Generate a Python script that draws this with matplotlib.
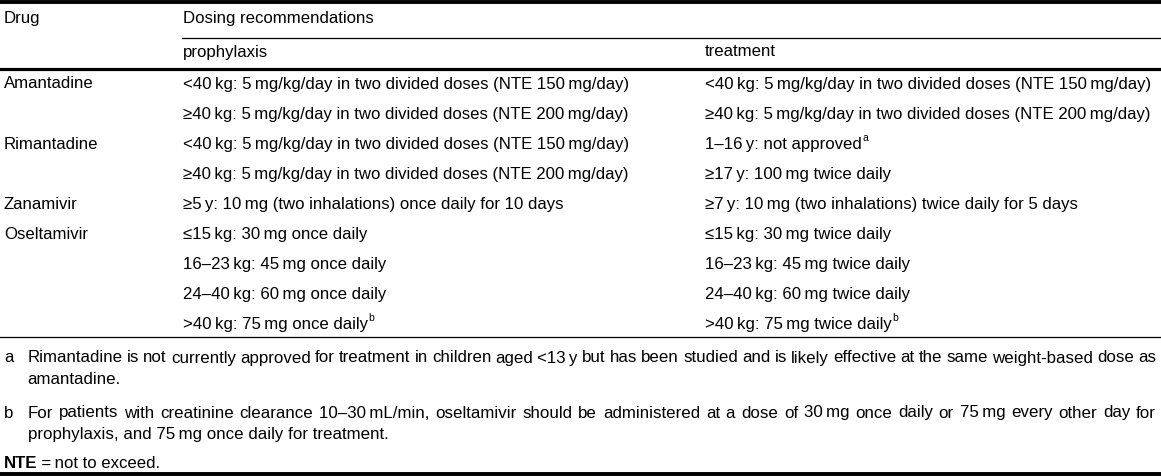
import matplotlib.pyplot as plt

plt.rcParams['font.family'] = ['Liberation Sans', 'DejaVu Sans']

T = '\u2009'
drugs = ['Amantadine', '', 'Rimantadine', '', 'Zanamivir', 'Oseltamivir', '', '', '']
prophylaxis = [
    f'<40{T}kg: 5{T}mg/kg/day in two divided doses (NTE 150{T}mg/day)',
    f'≥40{T}kg: 5{T}mg/kg/day in two divided doses (NTE 200{T}mg/day)',
    f'<40{T}kg: 5{T}mg/kg/day in two divided doses (NTE 150{T}mg/day)',
    f'≥40{T}kg: 5{T}mg/kg/day in two divided doses (NTE 200{T}mg/day)',
    f'≥5{T}y: 10{T}mg (two inhalations) once daily for 10 days',
    f'≤15{T}kg: 30{T}mg once daily',
    f'16–23{T}kg: 45{T}mg once daily',
    f'24–40{T}kg: 60{T}mg once daily',
    f'>40{T}kg: 75{T}mg once daily',
]
prophylaxis_sup = ['', '', '', '', '', '', '', '', 'b']
treatment = [
    f'<40{T}kg: 5{T}mg/kg/day in two divided doses (NTE 150{T}mg/day)',
    f'≥40{T}kg: 5{T}mg/kg/day in two divided doses (NTE 200{T}mg/day)',
    f'1–16{T}y: not approved',
    f'≥17{T}y: 100{T}mg twice daily',
    f'≥7{T}y: 10{T}mg (two inhalations) twice daily for 5 days',
    f'≤15{T}kg: 30{T}mg twice daily',
    f'16–23{T}kg: 45{T}mg twice daily',
    f'24–40{T}kg: 60{T}mg twice daily',
    f'>40{T}kg: 75{T}mg twice daily',
]
treatment_sup = ['', '', 'a', '', '', '', '', '', 'b']
footnote_keys = ['a', 'b']
footnote_lines = [
    [f'Rimantadine is not currently approved for treatment in children aged <13{T}y but has been studied and is likely effective at the same weight-based dose as',
     'amantadine.'],
    [f'For patients with creatinine clearance 10–30{T}mL/min, oseltamivir should be administered at a dose of 30{T}mg once daily or 75{T}mg every other day for',
     f'prophylaxis, and 75{T}mg once daily for treatment.'],
]

W, H = 1161, 476
fig = plt.figure(figsize=(W / 100, H / 100), dpi=100)
ax = fig.add_axes([0, 0, 1, 1])
ax.set_xlim(0, W)
ax.set_ylim(H, 0)
ax.axis('off')

fs = 12.05
fs_note = 12.2
sup_fs = 7.5
x_drug, x_pro, x_tr = 4, 183, 705
x_note, x_note_end = 27.5, 1156

# rules
ax.plot([0, W], [1.8, 1.8], color='black', lw=2.8)
ax.plot([x_pro - 1, W], [38, 38], color='black', lw=0.9)
ax.plot([0, W], [68.5, 68.5], color='black', lw=2.3)
ax.plot([0, W], [337, 337], color='black', lw=0.9)
ax.plot([0, W], [474, 474], color='black', lw=2.8)

ax.text(x_drug, 18, 'Drug', fontsize=fs, va='center')
ax.text(x_pro, 18, 'Dosing recommendations', fontsize=fs, va='center')
ax.text(x_pro, 52, 'prophylaxis', fontsize=fs, va='center')
ax.text(x_tr, 52, 'treatment', fontsize=fs, va='center')

sups = []
y0, dy = 84, 30.1
for i in range(len(drugs)):
    y = y0 + i * dy
    ax.text(x_drug, y, drugs[i], fontsize=fs, va='center')
    tp = ax.text(x_pro, y, prophylaxis[i], fontsize=fs, va='center')
    tt = ax.text(x_tr, y, treatment[i], fontsize=fs, va='center')
    if prophylaxis_sup[i]:
        sups.append((tp, prophylaxis_sup[i], y))
    if treatment_sup[i]:
        sups.append((tt, treatment_sup[i], y))

fig.canvas.draw()
r = fig.canvas.get_renderer()
inv = ax.transData.inverted()


def width(s, size):
    t = ax.text(0, 0, s, fontsize=size)
    bb = t.get_window_extent(r)
    t.remove()
    return inv.transform((bb.x1, 0))[0] - inv.transform((bb.x0, 0))[0]


fy = [[358, 380], [413, 435]]
for k, lines, ys in zip(footnote_keys, footnote_lines, fy):
    ax.text(x_drug, ys[0], k, fontsize=fs, va='center')
    # first line justified: right edge of each word follows the natural prefix width
    words = lines[0].split(' ')
    extra = (x_note_end - x_note - width(lines[0], fs_note)) / (len(words) - 1)
    for i, w in enumerate(words):
        xr = x_note + width(' '.join(words[:i + 1]), fs_note) + i * extra
        ax.text(xr, ys[0], w, fontsize=fs_note, va='center', ha='right')
    ax.text(x_note, ys[1], lines[1], fontsize=fs_note, va='center')

nte = ax.text(x_drug, 463, 'NTE', fontsize=fs, va='center', fontweight='bold')

for t, s, y in sups:
    bb = t.get_window_extent(r)
    x1 = inv.transform((bb.x1, bb.y0))[0]
    ax.text(x1 + 0.5, y - 6.5, s, fontsize=sup_fs, va='center')
bb = nte.get_window_extent(r)
x1 = inv.transform((bb.x1, bb.y0))[0]
ax.text(x1 + 1, 463, f'{T}={T}not to exceed.', fontsize=fs, va='center')

fig.savefig('out.png', dpi=100)
